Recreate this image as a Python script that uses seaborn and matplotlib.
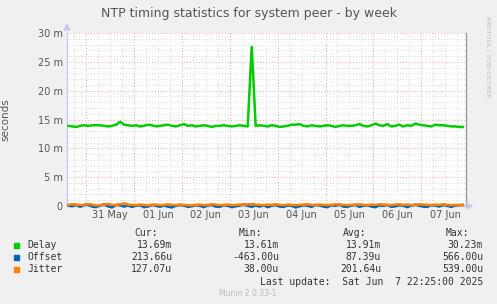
import matplotlib
matplotlib.use("Agg")
import matplotlib.pyplot as plt
import matplotlib.ticker as mticker
import seaborn as sns
import pandas as pd

# ---------------- data (milliseconds) ----------------
delay_ms = [
    13.9, 13.8, 13.7, 13.9, 14.0, 13.9, 14.0, 14.0, 14.0, 13.9, 13.8, 13.9, 14.1, 14.6, 14.1, 14.0,
    13.9, 14.0, 13.8, 13.9, 14.1, 14.0, 13.8, 13.9, 14.0, 14.1, 13.9, 13.8, 14.0, 14.2, 13.9, 14.0,
    13.8, 13.9, 14.0, 13.9, 13.7, 13.9, 13.9, 14.0, 13.9, 13.8, 13.9, 14.0, 13.9, 13.8, 27.6, 13.9,
    14.0, 13.9, 13.8, 14.0, 13.9, 13.7, 13.8, 13.9, 14.1, 14.1, 14.2, 13.9, 13.8, 14.0, 13.9, 13.8,
    13.9, 14.0, 13.9, 13.7, 13.9, 14.0, 13.9, 13.9, 14.0, 14.2, 13.9, 13.8, 14.0, 14.3, 14.0, 13.9,
    14.2, 13.8, 13.9, 14.1, 13.8, 14.0, 13.9, 14.3, 14.1, 14.0, 13.9, 13.8, 14.1, 14.0, 14.0, 13.9,
    13.8, 13.8, 13.7, 13.7,
]
offset_ms = [
    0.10, -0.05, 0.20, -0.15, 0.15, 0.25, -0.10, -0.20, 0.10, 0.30, -0.05, -0.25, 0.20, 0.15, -0.10, 0.10,
    -0.15, 0.05, 0.15, -0.20, -0.10, 0.20, 0.05, -0.15, 0.10, -0.10, -0.25, 0.05, 0.20, 0.10, -0.15, -0.05,
    0.15, 0.05, -0.20, 0.10, 0.20, -0.10, -0.15, 0.15, 0.05, -0.20, -0.05, 0.10, 0.25, 0.05, -0.15, 0.10,
    -0.10, 0.15, -0.20, 0.05, 0.20, -0.10, -0.15, 0.10, 0.05, -0.25, -0.05, 0.15, 0.05, -0.15, 0.20, 0.10,
    -0.10, -0.20, 0.15, 0.05, 0.25, -0.10, -0.15, 0.10, 0.20, -0.15, 0.05, 0.15, -0.10, -0.20, 0.10, 0.05,
    0.20, -0.15, -0.05, 0.15, 0.05, -0.20, 0.10, 0.25, 0.05, -0.10, -0.15, 0.15, 0.10, -0.10, 0.20, 0.05,
    -0.15, 0.10, 0.15, 0.21,
]
jitter_ms = [
    0.20, 0.30, 0.25, 0.15, 0.20, 0.35, 0.25, 0.10, 0.15, 0.20, 0.40, 0.20, 0.15, 0.30, 0.45, 0.25,
    0.20, 0.15, 0.25, 0.20, 0.10, 0.20, 0.25, 0.15, 0.20, 0.30, 0.20, 0.15, 0.25, 0.20, 0.15, 0.10,
    0.20, 0.25, 0.15, 0.20, 0.30, 0.25, 0.15, 0.20, 0.25, 0.15, 0.20, 0.25, 0.20, 0.30, 0.35, 0.25,
    0.20, 0.15, 0.25, 0.20, 0.30, 0.20, 0.15, 0.25, 0.20, 0.15, 0.20, 0.25, 0.30, 0.20, 0.15, 0.25,
    0.20, 0.15, 0.20, 0.30, 0.25, 0.20, 0.15, 0.20, 0.25, 0.30, 0.20, 0.15, 0.25, 0.20, 0.30, 0.25,
    0.20, 0.15, 0.25, 0.30, 0.20, 0.25, 0.15, 0.20, 0.30, 0.25, 0.20, 0.15, 0.25, 0.20, 0.30, 0.20,
    0.15, 0.20, 0.15, 0.13,
]
series_names = ["Delay", "Offset", "Jitter"]
series_colors = ["#00CC00", "#0066B3", "#FF8000"]
stat_cur = ["13.69m", "213.66u", "127.07u"]
stat_min = ["13.61m", "-463.00u", "38.00u"]
stat_avg = ["13.91m", "87.39u", "201.64u"]
stat_max = ["30.23m", "566.00u", "539.00u"]
day_labels = ["31 May", "01 Jun", "02 Jun", "03 Jun", "04 Jun", "05 Jun", "06 Jun", "07 Jun"]
title = "NTP timing statistics for system peer - by week"
last_update = "Last update:  Sat Jun  7 22:25:00 2025"

t_start = pd.Timestamp("2025-05-30 14:25")
t_end = pd.Timestamp("2025-06-07 22:25")
times = pd.date_range("2025-05-30 15:00", periods=len(delay_ms), freq="2h")
df = pd.DataFrame({"time": list(times) * 3,
                   "value": delay_ms + offset_ms + jitter_ms,
                   "series": sum([[n] * len(delay_ms) for n in series_names], [])})

# ---------------- figure ----------------
sns.set_theme(style="white")
plt.rcParams["font.family"] = ["DejaVu Sans"]
W, H = 497, 304
BG = "#F0F0F0"
fig = plt.figure(figsize=(W / 100, H / 100), dpi=100, facecolor=BG)
L, R, T, B = 67, 466, 33, 206
ax = fig.add_axes([L / W, 1 - B / H, (R - L) / W, (B - T) / H])
ax.set_facecolor("white")

# grid
minor_c = "#D8D8D8"
major_c = "#F2A8A8"
for v in range(0, 31):
    ax.axhline(v, color=major_c if v % 5 == 0 else minor_c, lw=0.7,
               ls=(0, (1, 2)), zorder=1)
t = pd.Timestamp("2025-05-30 18:00")
while t < t_end:
    ax.axvline(t, color=major_c if t.hour == 0 else minor_c, lw=0.7,
               ls=(0, (1, 2)), zorder=1)
    t += pd.Timedelta(hours=6)

n_grid = len(ax.lines)
sns.lineplot(data=df, x="time", y="value", hue="series", palette=series_colors,
             hue_order=series_names, lw=1.8, ax=ax, legend=False, zorder=3)
for ln in ax.lines[n_grid:]:
    ln.set_clip_on(False)

ax.set_xlim(t_start, t_end)
ax.set_ylim(0, 30)
ax.set_yticks(range(0, 31, 5))
ax.yaxis.set_major_formatter(mticker.FuncFormatter(lambda v, p: "0" if v == 0 else f"{int(v)} m"))
label_pos = [pd.Timestamp("2025-05-31 12:00") + pd.Timedelta(days=i) for i in range(len(day_labels))]
ax.set_xticks(label_pos)
ax.set_xticklabels(day_labels)
ax.tick_params(axis="both", length=0, labelsize=7, colors="#555555", pad=3)
ax.set_xlabel("")
ax.set_ylabel("seconds", fontsize=7.5, color="#555555")
ax.yaxis.set_label_coords((10 - L) / (R - L), 0.5)

ax.spines["top"].set_visible(False)
ax.spines["left"].set_color("#C8C8F0")
ax.spines["bottom"].set_color("#C8C8F0")
ax.spines["right"].set_color("#999999")
for s in ["left", "bottom", "right"]:
    ax.spines[s].set_linewidth(1.0)
ax.spines["bottom"].set_zorder(2)
# axis arrows
fig.patches.append(matplotlib.patches.Polygon(
    [[(L - 3) / W, 1 - 30 / H], [(L + 3) / W, 1 - 30 / H], [L / W, 1 - 24 / H]],
    closed=True, transform=fig.transFigure, color="#C8C8F0", figure=fig))
fig.patches.append(matplotlib.patches.Polygon(
    [[(R + 1) / W, 1 - (B - 3) / H], [(R + 1) / W, 1 - (B + 3) / H], [(R + 6) / W, 1 - B / H]],
    closed=True, transform=fig.transFigure, color="#C8C8F0", figure=fig))

def fx(x):
    return x / W

def fy(y):
    return 1 - y / H

fig.text(fx(249), fy(14), title, ha="center", va="center", fontsize=9, color="#555555")
fig.text(fx(488), fy(16), "RRDTOOL / TOBI OETIKER", rotation=270, ha="center", va="top",
         fontsize=4.6, color="#BBBBBB")

mono = "DejaVu Sans Mono"
fs = 7
col_right = [172, 279, 381, 483]
headers = ["Cur:", "Min:", "Avg:", "Max:"]
header_right = [158, 262, 366, 469]
for h, xr in zip(headers, header_right):
    fig.text(fx(xr), fy(233), h, ha="right", va="center", fontsize=fs, family=mono, color="#333333")
rows_y = [245, 257, 269]
for i, name in enumerate(series_names):
    y = rows_y[i]
    fig.patches.append(matplotlib.patches.Rectangle(
        (fx(14), fy(y + 3)), 5 / W, 5 / H, transform=fig.transFigure,
        color=series_colors[i], figure=fig))
    fig.text(fx(27), fy(y), name, ha="left", va="center", fontsize=fs, family=mono, color="#333333")
    for vals, xr in zip([stat_cur, stat_min, stat_avg, stat_max], col_right):
        fig.text(fx(xr), fy(y), vals[i], ha="right", va="center", fontsize=fs, family=mono, color="#333333")
fig.text(fx(483), fy(282), last_update, ha="right", va="center", fontsize=fs, family=mono, color="#333333")
fig.text(fx(248), fy(293), "Munin 2.0.33-1", ha="center", va="center", fontsize=5.5, color="#BBBBBB")

fig.savefig("out.png", dpi=100, facecolor=BG)
